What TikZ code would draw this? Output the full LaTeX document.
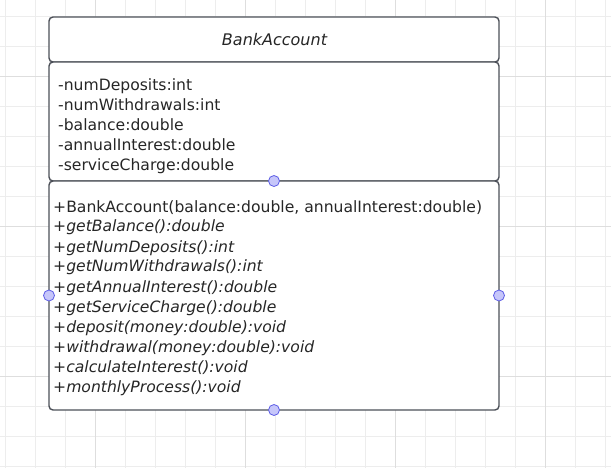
\documentclass[tikz,border=0pt]{standalone}
\usepackage{fontspec}
\setmainfont{DejaVu Sans}
\usetikzlibrary{calc}
\usepackage{xcolor}

\definecolor{gridminor}{HTML}{EDEDED}
\definecolor{gridmajor}{HTML}{DEDEDE}
\definecolor{boxline}{HTML}{4C5058}
\definecolor{handlefill}{HTML}{C6C6FA}
\definecolor{handleline}{HTML}{5E5EE6}
\definecolor{txt}{HTML}{262626}

\tikzset{
  box/.style={draw=boxline, line width=1.4pt, rounded corners=4pt, fill=white,
    minimum width=450pt, inner sep=0pt, outer sep=0pt, anchor=north},
  member/.style={anchor=base west, inner sep=0pt, text=txt,
    font=\fontsize{15.6}{18}\selectfont},
  handle/.style={circle, draw=handleline, fill=handlefill, line width=0.8pt,
    minimum size=11pt, inner sep=0pt}
}

\begin{document}
\begin{tikzpicture}[x=1pt,y=-1pt]

      % Page
      \useasboundingbox (0,0) rectangle (611,468);
      \fill[white] (0,0) rectangle (611,468);

      % Grid
      \foreach \x in {5,35,...,605}
        \draw[gridminor, line width=0.8pt] (\x,0) -- (\x,468);
      \foreach \y in {16,46,...,466}
        \draw[gridminor, line width=0.8pt] (0,\y) -- (611,\y);
      \foreach \x in {95,245,395,545}
        \draw[gridmajor, line width=0.8pt] (\x,0) -- (\x,468);
      \foreach \y in {76,226,376}
        \draw[gridmajor, line width=0.8pt] (0,\y) -- (611,\y);

      % Class box
      \node[box, minimum height=45pt] (title) at (274,17) {};
      \node[box, minimum height=119pt] (attrs) at (title.south) {};
      \node[box, minimum height=229pt] (methods) at (attrs.south) {};

      % Name
      \node[anchor=base, inner sep=0pt, text=txt,
        font=\fontsize{16}{19}\selectfont\itshape] (name) at (274.5,46) {BankAccount};

      % Attributes
      \foreach \t [count=\i] in {-numDeposits:int, -numWithdrawals:int,
        -balance:double, -annualInterest:double, -serviceCharge:double}
      {
        \node[member] (attr\i) at (58,{71+20*\i}) {\t};
      }

      % Methods
      \node[member] (meth0) at (53,212) {+BankAccount(balance:double, annualInterest:double)};
      \foreach \t [count=\i] in {+getBalance():double, +getNumDeposits():int,
        +getNumWithdrawals():int, +getAnnualInterest():double,
        +getServiceCharge():double, +deposit(money:double):void,
        +withdrawal(money:double):void, +calculateInterest():void,
        +monthlyProcess():void}
      {
        \node[member, font=\fontsize{15.6}{18}\selectfont\itshape] (meth\i) at (53,{212+20*\i}) {\t};
      }

      % Handles
      \node[handle] (htop) at (attrs.south) {};
      \node[handle] (hbottom) at (methods.south) {};
      \node[handle] (hleft) at (methods.west) {};
      \node[handle] (hright) at (methods.east) {};

\end{tikzpicture}
\end{document}
